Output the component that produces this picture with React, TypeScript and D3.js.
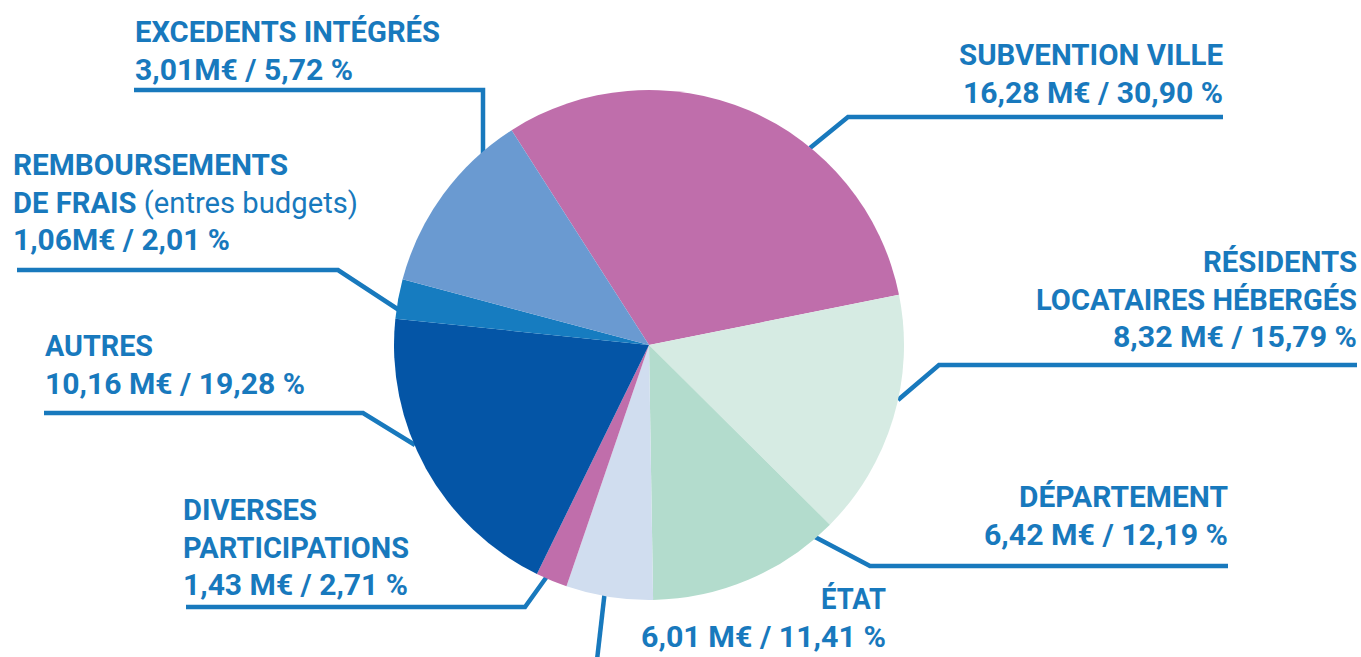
import React from "react";
import * as d3 from "d3";

// Slices as drawn, clockwise from the top-left (share of the disc, in %)
const sliceKeys = ["ville", "residents", "departement", "lavande", "diverses", "autres", "remboursements", "bleuclair"];
const sliceShares = [30.9, 15.6, 12.3, 5.5, 2.0, 19.4, 2.5, 11.8];
const sliceColors = ["#bf6eab", "#d6ebe3", "#b3dccd", "#d0ddef", "#c06eab", "#0455a6", "#167cc0", "#6a9ad1"];

// Labels
const labelTitles = [
  ["SUBVENTION VILLE"],
  ["RÉSIDENTS", "LOCATAIRES HÉBERGÉS"],
  ["DÉPARTEMENT"],
  ["ÉTAT"],
  ["DIVERSES", "PARTICIPATIONS"],
  ["AUTRES"],
  ["REMBOURSEMENTS", "DE FRAIS|(entres budgets)"],
  ["EXCEDENTS INTÉGRÉS"],
];
const labelAmounts = [
  "16,28 M€ / 30,90 %",
  "8,32 M€ / 15,79 %",
  "6,42 M€ / 12,19 %",
  "6,01 M€ / 11,41 %",
  "1,43 M€ / 2,71 %",
  "10,16 M€ / 19,28 %",
  "1,06M€ / 2,01 %",
  "3,01M€ / 5,72 %",
];

// Layout (positions, widths) for each label block
const labelLayout = [
  { x: 1223, anchor: "end", y0: 65, widths: [264, 260], leader: [[810, 148], [848, 117], [1223, 117]] },
  { x: 1357, anchor: "end", y0: 272, widths: [154, 321, 244], leader: [[898, 400], [939, 365], [1357, 365]] },
  { x: 1228, anchor: "end", y0: 507, widths: [209, 244], leader: [[815, 537], [870, 566], [1228, 566]] },
  { x: 886, anchor: "end", y0: 609, widths: [65, 245], leader: [[605, 590], [597, 660]] },
  { x: 183, anchor: "start", y0: 520, widths: [134, 226, 225], leader: [[548, 575], [525, 607], [186, 607]] },
  { x: 45, anchor: "start", y0: 356, widths: [108, 260], leader: [[415, 445], [363, 413], [44, 413]] },
  { x: 13, anchor: "start", y0: 175, widths: [275, 345, 217], leader: [[402, 312], [338, 270], [17, 270]] },
  { x: 135, anchor: "start", y0: 42, widths: [305, 218], leader: [[483, 160], [483, 90], [134, 90]] },
];

const W = 1361;
const H = 657;
const cx = 649;
const cy = 345;
const R = 255;
const startAngle = (-32.6 * Math.PI) / 180;
const BLUE = "#1879bd";
const LINE_H = 37.5;
const FONT = "Roboto, 'Open Sans', sans-serif";

export default function App() {
  const pie = d3
    .pie<number>()
    .sort(null)
    .value((d) => d)
    .startAngle(startAngle)
    .endAngle(startAngle + 2 * Math.PI);
  const arcs = pie(sliceShares);
  const arcGen = d3.arc<d3.PieArcDatum<number>>().innerRadius(0).outerRadius(R);
  const line = d3.line();

  return (
    <svg
      width={W}
      height={H}
      style={{ position: "absolute", left: 0, top: 0, background: "#fff" }}
      fontFamily={FONT}
    >
      {labelLayout.map((l, i) => (
        <path
          key={"l" + i}
          d={line(l.leader as [number, number][]) || ""}
          fill="none"
          stroke={BLUE}
          strokeWidth={4.5}
        />
      ))}
      <g transform={`translate(${cx},${cy})`}>
        {arcs.map((a, i) => (
          <path key={sliceKeys[i]} d={arcGen(a) || ""} fill={sliceColors[i]} />
        ))}
      </g>
      {labelLayout.map((l, i) => {
        const lines = [...labelTitles[i], labelAmounts[i]];
        return (
          <g key={"t" + i} fill={BLUE} fontSize={29} fontWeight={700}>
            {lines.map((txt, j) => {
              const parts = txt.split("|");
              return (
                <text
                  key={j}
                  x={l.x}
                  y={l.y0 + j * LINE_H}
                  textAnchor={l.anchor}
                  textLength={l.widths[j]}
                  lengthAdjust="spacingAndGlyphs"
                >
                  {parts.length > 1 ? (
                    <>
                      <tspan>{parts[0] + " "}</tspan>
                      <tspan fontWeight={400}>{parts[1]}</tspan>
                    </>
                  ) : (
                    txt
                  )}
                </text>
              );
            })}
          </g>
        );
      })}
    </svg>
  );
}
